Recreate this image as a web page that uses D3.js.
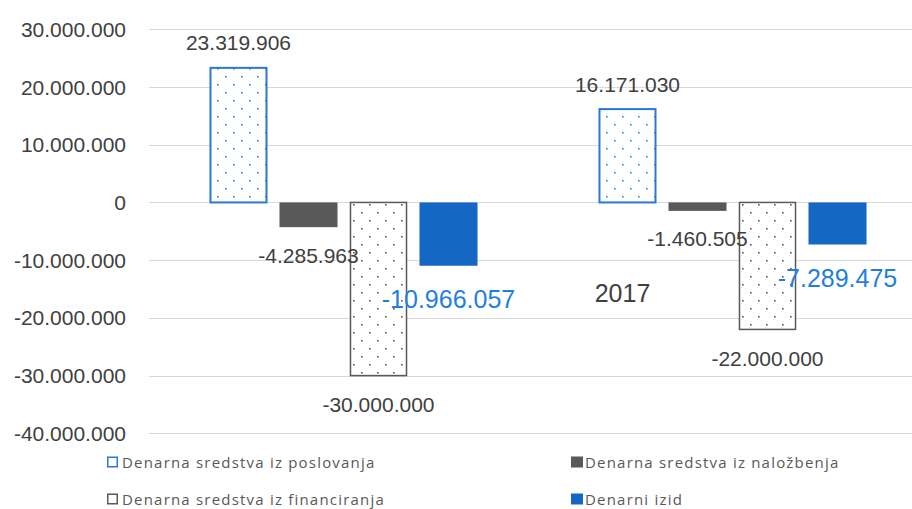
<!DOCTYPE html>
<html>
<head>
<meta charset="utf-8">
<script src="https://cdn.jsdelivr.net/npm/d3@7"></script>
<style>
  body { margin: 0; background: #fff; }
  svg { display: block; font-family: "Liberation Sans", Arial, sans-serif; }
</style>
</head>
<body>
<svg id="chart" width="912" height="509"></svg>
<script>
// data
const categories = ["", "2017"];
const seriesNames = [
  "Denarna sredstva iz poslovanja",
  "Denarna sredstva iz naložbenja",
  "Denarna sredstva iz financiranja",
  "Denarni izid"
];
const poslovanja = [23319906, 16171030];
const nalozbenja = [-4285963, -1460505];
const financiranja = [-30000000, -22000000];
const izid = [-10966057, -7289475];
const yTicks = [30000000, 20000000, 10000000, 0, -10000000, -20000000, -30000000, -40000000];

const seriesValues = [poslovanja, nalozbenja, financiranja, izid];

const svg = d3.select("#chart");
const fmt = v => d3.format(",")(v).replace(/,/g, ".").replace("−", "-");

// patterns
const defs = svg.append("defs");
function dots(id, color) {
  const p = defs.append("pattern").attr("id", id)
    .attr("patternUnits", "userSpaceOnUse")
    .attr("width", 16).attr("height", 16);
  p.append("rect").attr("width", 16).attr("height", 16).attr("fill", "#fff");
  p.append("rect").attr("x", 4).attr("y", 4).attr("width", 1.6).attr("height", 1.6).attr("fill", color);
  p.append("rect").attr("x", 12).attr("y", 12).attr("width", 1.6).attr("height", 1.6).attr("fill", color);
}
dots("dotBlue", "#2a7fe0");
dots("dotGray", "#555");

const styles = [
  { fill: "url(#dotBlue)", stroke: "#2a78d4", lab: "#404040", size: 21, off: 28 },
  { fill: "#595959", stroke: "none", lab: "#404040", size: 21, off: 28 },
  { fill: "url(#dotGray)", stroke: "#595959", lab: "#404040", size: 21, off: 29 },
  { fill: "#1467c2", stroke: "none", lab: "#1f7fe0", size: 25, off: 33 }
];

const y = d3.scaleLinear().domain([-40000000, 30000000]).range([433.3, 29.3]);
const x0 = d3.scaleBand().domain(categories).range([149, 927]).padding(0);
const x1 = d3.scaleBand().domain(d3.range(seriesNames.length))
  .range([0, x0.bandwidth()]).paddingInner(0.171).paddingOuter(0.864);

// grid + tick labels
svg.append("g").selectAll("line").data(yTicks).join("line")
  .attr("x1", 149).attr("x2", 927)
  .attr("y1", d => Math.round(y(d)) + 0.5).attr("y2", d => Math.round(y(d)) + 0.5)
  .attr("stroke", "#d9d9d9").attr("stroke-width", 1);

svg.append("g").selectAll("text").data(yTicks).join("text")
  .attr("x", 126).attr("y", d => y(d))
  .attr("text-anchor", "end").attr("dominant-baseline", "central")
  .attr("font-size", 21).attr("fill", "#404040")
  .text(d => fmt(d));

// bars
const groups = svg.append("g").selectAll("g").data(categories).join("g")
  .attr("transform", d => `translate(${x0(d)},0)`);

groups.selectAll("rect").data((c, ci) => seriesValues.map((s, si) => ({ si, v: s[ci] })))
  .join("rect")
  .attr("x", d => x1(d.si) + (styles[d.si].stroke !== "none" ? 1 : 0))
  .attr("y", d => y(Math.max(0, d.v)))
  .attr("width", d => x1.bandwidth() - (styles[d.si].stroke !== "none" ? 2 : 0))
  .attr("height", d => Math.abs(y(d.v) - y(0)))
  .attr("fill", d => styles[d.si].fill)
  .attr("stroke", d => styles[d.si].stroke)
  .attr("stroke-width", d => d.si === 0 ? 2 : 1.5);

groups.selectAll("text.lab").data((c, ci) => seriesValues.map((s, si) => ({ si, v: s[ci] })))
  .join("text").attr("class", "lab")
  .attr("x", d => x1(d.si) + x1.bandwidth() / 2)
  .attr("y", d => d.v >= 0 ? y(d.v) - 25 : y(d.v) + styles[d.si].off)
  .attr("text-anchor", "middle").attr("dominant-baseline", "central")
  .attr("font-size", d => styles[d.si].size)
  .attr("fill", d => styles[d.si].lab)
  .text(d => fmt(d.v));

// category label (sits inside the plot in the original)
groups.append("text")
  .attr("x", x0.bandwidth() / 2 - 110).attr("y", 293)
  .attr("text-anchor", "middle").attr("dominant-baseline", "central")
  .attr("font-size", 25).attr("fill", "#404040")
  .text(d => d);

// legend
const legendPos = [[107, 462], [571, 462], [107, 499], [571, 499]];
const lg = svg.append("g").selectAll("g").data(seriesNames).join("g")
  .attr("transform", (d, i) => `translate(${legendPos[i][0]},${legendPos[i][1]})`);
lg.append("rect")
  .attr("x", (d, i) => styles[i].stroke !== "none" ? 0.75 : 0)
  .attr("y", (d, i) => styles[i].stroke !== "none" ? -4.75 : -5.5)
  .attr("width", (d, i) => styles[i].stroke !== "none" ? 9.5 : 12)
  .attr("height", (d, i) => styles[i].stroke !== "none" ? 9.5 : 11)
  .attr("fill", (d, i) => styles[i].stroke !== "none" ? "#fff" : styles[i].fill)
  .attr("stroke", (d, i) => styles[i].stroke)
  .attr("stroke-width", 1.5);
lg.append("text")
  .attr("x", (d, i) => i % 2 ? 14 : 15).attr("y", 0)
  .attr("dominant-baseline", "central")
  .attr("font-family", "'Open Sans', sans-serif")
  .attr("font-size", 15).attr("letter-spacing", 1.2)
  .attr("fill", "#595959")
  .text(d => d);
</script>
</body>
</html>
